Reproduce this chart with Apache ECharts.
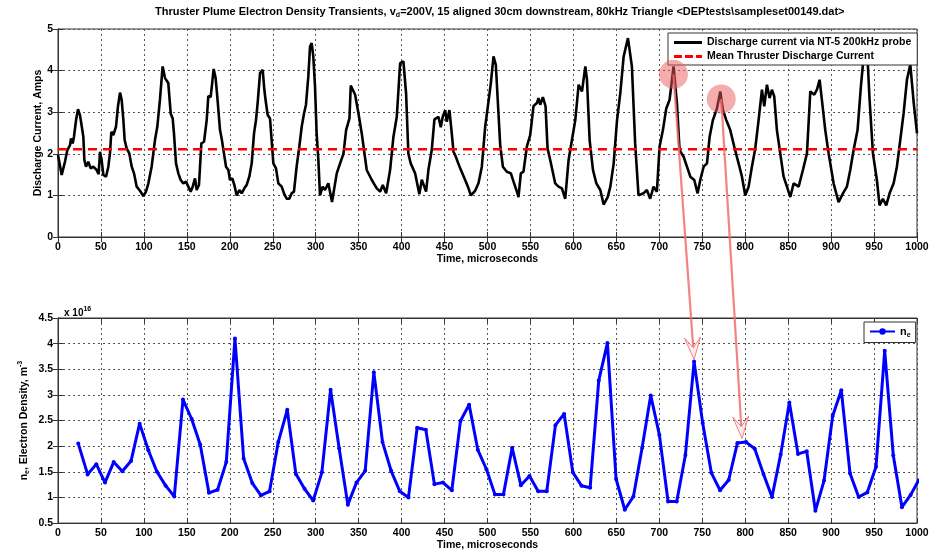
<!DOCTYPE html>
<html><head><meta charset="utf-8">
<script src="https://cdn.jsdelivr.net/npm/echarts@6/dist/echarts.min.js"></script>
<style>html,body{margin:0;padding:0;background:#fff}#c{width:945px;height:552px}</style>
</head><body><div id="c"></div>
<script>
// ---------- DATA ----------
const currentTime = [0,4.3,8.1,10.9,14,15.1,17.1,18.6,21,23.3,25.6,27.9,29.5,30.7,32.6,35.3,38,41.1,45,47.3,48.9,50.8,52.8,55.9,58.6,60.5,62.1,64.4,67.5,69.8,72.2,74.1,76.1,77.6,79.9,83,85.8,88.5,91.6,94.7,97.4,99.3,102.4,105.2,109,112.9,115.6,118.7,121.8,124.6,128.4,131.2,133.5,135,137.4,140.1,142.8,145.9,149,151.7,154.4,156.8,159.5,161.4,164.1,166.9,170,173.1,175,177.7,179.3,181.2,183.5,185.9,188.6,190.5,193.2,195.6,198.3,200.2,202.9,205.3,208,211.1,213.8,216.9,219.6,222.7,225.5,228.2,230.5,232.4,235.2,238.3,240.2,242.1,244.1,246.8,248.7,250.7,253.8,256.5,260.4,263.1,266.2,269.3,272,274.7,277.8,280.9,283.7,286.4,288.7,291.4,293.4,295.3,297.2,299.2,301.1,303.1,305,308.1,310.8,314.7,319,324.5,328.4,332.3,335.4,339.3,340.8,345.9,349.8,353.6,359.4,365.3,371.1,375,378.1,382,386.6,390.5,394.4,398.3,402.1,405.2,407.9,410.6,415.7,420.7,423.5,428.5,431.2,435.1,438.2,442.9,445.6,447.9,450.7,452.6,455.7,458.4,460.4,462.3,468.2,474,477.9,480.6,485.6,489.5,493.4,497.3,501.2,503.9,507,509.7,512.1,514.8,517.9,522.5,527.2,530.3,534.2,536.1,538.8,541.9,545.8,549.7,553.6,557.5,559.4,561.4,564.5,567.6,569.9,573,578.8,582.7,586.6,590.5,594.4,598.3,602.2,606.1,610,613.9,615.8,618.9,622.8,626.7,631.3,635.2,639.9,643,646.9,650.8,654.6,658.5,663.5,668.1,671.9,675.8,681.6,685.5,689.4,693.3,697.2,700.3,704.2,708.1,712,716.6,720.5,723.6,728.3,732.2,736.1,740.7,744.6,747.7,751.6,755.5,758.6,762.4,767.1,771,774.1,778,782.6,787.3,792.3,796.2,800.1,804,807.8,811.7,815.6,819.5,822.2,825.3,828.4,831.1,833.8,836.9,840.8,844.7,848.6,852.5,856.4,862.2,867.2,871.9,875.8,880.4,883.5,886.6,889.7,893.2,897.1,902.9,908.7,913.8,918.4,922.3,926.2,930.8,934.7,938.6,941.7,944.8,948.7,953.3,956.4,960.3,964.2,968.1,972.8,976.6,980.5,984.4,988.3,992.2,996.2,1000];
const currentAmps = [1.97,1.49,1.81,2.09,2.21,2.37,2.25,2.41,2.81,3.07,2.93,2.89,2.41,1.85,1.69,1.81,1.65,1.69,1.61,1.51,2.05,1.85,1.49,1.45,1.69,2.01,2.53,2.45,2.65,3.14,3.47,3.30,2.81,2.33,2.13,2.01,1.69,1.53,1.21,1.13,1.05,0.98,1.09,1.29,1.69,2.33,2.65,3.30,4.10,3.82,3.70,2.97,2.85,2.49,1.77,1.53,1.37,1.29,1.33,1.21,1.09,1.21,1.41,1.13,1.25,2.25,2.29,2.81,3.39,3.36,3.66,4.04,3.82,3.26,2.57,2.37,2.01,1.69,1.61,1.37,1.41,1.25,1.00,1.13,1.05,1.17,1.25,1.45,1.77,2.49,2.81,3.22,3.94,4.02,3.54,3.22,2.93,2.85,2.33,1.77,1.65,1.29,1.21,1.05,0.92,0.92,1.05,1.09,1.69,2.17,2.65,2.97,3.18,3.86,4.58,4.66,4.34,3.62,2.49,1.85,1.00,1.21,1.13,1.29,0.84,1.53,1.77,2.0,2.57,2.85,3.64,3.42,2.97,2.49,1.61,1.37,1.17,1.09,1.25,1.05,1.61,2.41,2.89,4.18,4.22,3.46,2.0,1.77,1.53,1.03,1.38,1.09,1.61,2.09,2.83,2.89,2.64,2.89,3.05,2.77,3.05,2.49,2.05,1.97,1.65,1.37,1.17,1.0,1.11,1.29,1.69,2.65,3.26,3.70,4.34,4.14,3.22,2.21,1.69,1.57,1.53,1.33,1.09,0.96,1.53,1.57,2.17,2.45,3.15,3.22,3.34,3.18,3.36,3.14,2.13,1.85,1.29,1.21,1.17,0.92,1.85,2.33,2.81,3.66,3.50,4.10,3.78,2.33,1.61,1.29,1.13,0.78,0.96,1.21,1.77,2.81,3.46,4.34,4.78,4.10,2.25,1.0,1.05,1.13,0.92,1.21,1.09,2.17,2.57,3.09,3.30,4.10,3.22,2.09,1.93,1.69,1.45,1.37,1.05,1.37,1.69,1.77,2.41,2.81,3.09,3.50,3.05,2.81,2.57,2.17,1.77,1.45,1.0,1.21,1.69,2.13,2.81,3.54,3.14,3.66,3.34,3.54,3.38,2.57,2.01,1.45,1.21,0.96,1.29,1.21,1.61,2.01,3.50,3.42,3.54,3.78,3.22,2.57,2.01,1.29,0.84,1.05,1.21,1.61,2.09,2.57,3.62,4.50,4.60,3.30,2.01,1.37,0.76,0.92,0.76,1.05,1.29,1.69,2.33,2.97,3.78,4.15,3.22,2.49];
const meanCurrent = 2.11;

const neTime = [23.6,34.5,44.6,54.7,64.8,74.9,85.0,95.0,105.2,115.2,125.3,135.4,145.5,155.6,165.6,175.7,185.8,195.9,206.0,216.1,226.2,236.2,246.3,256.4,266.9,276.9,287.0,297.1,307.2,317.3,327.3,337.4,347.5,357.6,367.7,377.8,387.8,397.9,408.0,418.1,428.2,438.2,448.3,458.5,468.5,478.6,488.7,498.8,508.6,518.6,528.7,538.8,548.9,559.0,569.0,579.1,589.2,599.3,609.4,619.5,629.5,639.6,649.7,659.8,669.9,680.0,690.0,700.1,710.2,720.3,730.4,740.5,750.5,760.6,770.7,780.8,790.9,801.0,811.1,821.2,831.2,841.3,851.4,861.5,871.6,881.7,891.8,901.8,911.9,922.0,932.1,942.2,952.3,962.4,972.4,982.5,992.6,1002.7];
// electron density in units of 1e16 m^-3
const neValue = [2.05,1.45,1.65,1.29,1.69,1.51,1.71,2.44,1.92,1.50,1.23,1.02,2.91,2.53,2.03,1.09,1.15,1.69,4.10,1.76,1.28,1.04,1.12,2.08,2.71,1.46,1.17,0.94,1.49,3.10,1.96,0.86,1.29,1.52,3.44,2.08,1.52,1.12,1.00,2.36,2.32,1.26,1.29,1.14,2.49,2.81,1.93,1.55,1.06,1.06,1.97,1.24,1.42,1.12,1.12,2.41,2.63,1.49,1.23,1.19,3.28,4.01,1.36,0.76,1.02,1.97,2.99,2.22,0.92,0.92,1.83,3.65,2.45,1.48,1.14,1.34,2.06,2.08,1.95,1.46,1.01,1.84,2.85,1.85,1.90,0.74,1.33,2.59,3.09,1.47,1.01,1.10,1.60,3.86,1.82,0.81,1.05,1.36];

// annotation: highlighted peaks in the current trace and the density points they point to
const annotSource = [[716.5, 3.91], [772.1, 3.32]];
const annotTarget = [[740.5, 3.69], [796.3, 2.15]];

// ---------- CHART ----------
const FONT = "'Liberation Sans', Arial, Helvetica, sans-serif";
const chart = echarts.init(document.getElementById('c'), null, {renderer: 'canvas'});

function pair(xs, ys) { return xs.map((x, i) => [x, ys[i]]); }

const gridLine = {show: true, lineStyle: {color: '#555', type: [2, 3], width: 1}};
const lbl = {color: '#000', fontWeight: 'bold', fontSize: 10.5, fontFamily: FONT, formatter: v => String(v)};
const nameStyle = {color: '#000', fontWeight: 'bold', fontSize: 10.5, fontFamily: FONT};
const axLine = {show: true, lineStyle: {color: '#333', width: 1}};
const tick = {show: true, inside: true, length: 5, lineStyle: {color: '#333'}};

function mirrorX(gi, interval) {
  return {gridIndex: gi, type: 'value', position: 'top', min: 0, max: 1000, interval: interval,
    axisLine: axLine, axisTick: tick, axisLabel: {show: false}, splitLine: {show: false}};
}
function mirrorY(gi, min, max, interval) {
  return {gridIndex: gi, type: 'value', position: 'right', min: min, max: max, interval: interval,
    axisLine: axLine, axisTick: tick, axisLabel: {show: false}, splitLine: {show: false}};
}

const option = {
  animation: false,
  backgroundColor: '#fff',
  title: [
    {
      left: 150, top: 0,
      text: '{a|Thruster Plume Electron Density Transients, v}{s|d}{a|=200V, 15 aligned 30cm downstream, 80kHz Triangle <DEPtests\\sampleset00149.dat>}',
      textStyle: {
        rich: {
          a: {fontSize: 11, fontWeight: 'bold', fontFamily: FONT, color: '#000', lineHeight: 14},
          s: {fontSize: 7, fontWeight: 'bold', fontFamily: FONT, color: '#000', lineHeight: 7, verticalAlign: 'bottom'}
        }
      }
    },
    {
      left: 59, top: 301,
      text: '{a|x 10}{p|16}',
      textStyle: {
        rich: {
          a: {fontSize: 10, fontWeight: 'bold', fontFamily: FONT, color: '#000', lineHeight: 14},
          p: {fontSize: 7, fontWeight: 'bold', fontFamily: FONT, color: '#000', lineHeight: 7, verticalAlign: 'top'}
        }
      }
    }
  ],
  grid: [
    {left: 58, right: 28, top: 29, height: 208, show: true, borderColor: '#333', borderWidth: 1},
    {left: 58, right: 28, top: 318, height: 208, show: true, borderColor: '#333', borderWidth: 1}
  ],
  legend: [
    {
      orient: 'vertical', left: 668, top: 33, padding: [4, 6, 3, 6], itemGap: 3,
      itemWidth: 28, itemHeight: 12, symbolKeepAspect: true,
      backgroundColor: '#fff', borderColor: '#333', borderWidth: 1, borderRadius: 0,
      textStyle: {color: '#000', fontWeight: 'bold', fontSize: 10.5, fontFamily: FONT},
      data: [
        {name: 'Discharge current via NT-5 200kHz probe', icon: 'path://M0,0H28V3H0Z'},
        {name: 'Mean Thruster Discharge Current', icon: 'path://M0,0H8V3H0Z M11,0H19V3H11Z M22,0H28V3H22Z'}
      ]
    },
    {
      orient: 'vertical', left: 864, top: 322, padding: [4, 5, 4, 5],
      itemWidth: 25, itemHeight: 8,
      backgroundColor: '#fff', borderColor: '#333', borderWidth: 1, borderRadius: 0,
      formatter: () => '{a|n}{s|e}',
      textStyle: {
        rich: {
          a: {fontSize: 11, fontWeight: 'bold', fontFamily: FONT, color: '#000', lineHeight: 14},
          s: {fontSize: 7, fontWeight: 'bold', fontFamily: FONT, color: '#000', lineHeight: 7, verticalAlign: 'bottom'}
        }
      },
      data: ['ne']
    }
  ],
  xAxis: [
    {gridIndex: 0, type: 'value', min: 0, max: 1000, interval: 50,
      axisLine: axLine, axisTick: tick, axisLabel: Object.assign({margin: 5}, lbl), splitLine: gridLine,
      name: 'Time, microseconds', nameLocation: 'middle', nameGap: 17, nameTextStyle: nameStyle},
    {gridIndex: 1, type: 'value', min: 0, max: 1000, interval: 50,
      axisLine: axLine, axisTick: tick, axisLabel: Object.assign({margin: 5}, lbl), splitLine: gridLine,
      name: 'Time, microseconds', nameLocation: 'middle', nameGap: 15, nameTextStyle: nameStyle},
    mirrorX(0, 50), mirrorX(1, 50)
  ],
  yAxis: [
    {gridIndex: 0, type: 'value', min: 0, max: 5, interval: 1,
      axisLine: axLine, axisTick: tick, axisLabel: Object.assign({margin: 5}, lbl), splitLine: gridLine,
      name: 'Discharge Current, Amps', nameLocation: 'middle', nameGap: 14, nameMoveOverlap: false,
      nameTextStyle: nameStyle},
    {gridIndex: 1, type: 'value', min: 0.5, max: 4.5, interval: 0.5,
      axisLine: axLine, axisTick: tick, axisLabel: Object.assign({margin: 5}, lbl), splitLine: gridLine,
      name: '{a|n}{s|e}{a|, Electron Density, m}{p|-3}', nameLocation: 'middle', nameGap: 27, nameMoveOverlap: false,
      nameTextStyle: {
        rich: {
          a: {fontSize: 10.5, fontWeight: 'bold', fontFamily: FONT, color: '#000', lineHeight: 14},
          s: {fontSize: 7, fontWeight: 'bold', fontFamily: FONT, color: '#000', lineHeight: 7, verticalAlign: 'bottom'},
          p: {fontSize: 7, fontWeight: 'bold', fontFamily: FONT, color: '#000', lineHeight: 7, verticalAlign: 'top'}
        }
      }},
    mirrorY(0, 0, 5, 1), mirrorY(1, 0.5, 4.5, 0.5)
  ],
  series: [
    {
      name: 'Discharge current via NT-5 200kHz probe', type: 'line', xAxisIndex: 0, yAxisIndex: 0,
      data: pair(currentTime, currentAmps), symbol: 'none', smooth: false,
      lineStyle: {color: '#000', width: 2.6}, itemStyle: {color: '#000'}, z: 3
    },
    {
      name: 'Mean Thruster Discharge Current', type: 'line', xAxisIndex: 0, yAxisIndex: 0,
      data: [[0, meanCurrent], [1000, meanCurrent]], symbol: 'none',
      lineStyle: {color: '#ff0000', width: 2.6, type: [9, 6]}, itemStyle: {color: '#ff0000'}, z: 3
    },
    {
      name: 'ne', type: 'line', xAxisIndex: 1, yAxisIndex: 1,
      data: pair(neTime, neValue), symbol: 'circle', symbolSize: 4, showSymbol: true,
      lineStyle: {color: '#0000ff', width: 3}, itemStyle: {color: '#0000ff'}, z: 3
    }
  ]
};
chart.setOption(option);

// ---------- annotations (positioned through the axes' own scales) ----------
function arrowGraphics() {
  const g = [];
  const pink = 'rgba(238,110,110,0.85)';
  annotSource.forEach((s, i) => {
    const p = chart.convertToPixel({gridIndex: 0}, s);
    const t = chart.convertToPixel({gridIndex: 1}, annotTarget[i]);
    const dx = t[0] - p[0], dy = t[1] - p[1];
    const L = Math.hypot(dx, dy), ux = dx / L, uy = dy / L, nx = -uy, ny = ux;
    const headL = 22, headW = 8, notch = 12;
    g.push({type: 'line', z: 100, shape: {x1: p[0], y1: p[1], x2: t[0] - ux * notch, y2: t[1] - uy * notch},
      style: {stroke: pink, lineWidth: 2.2}});
    g.push({type: 'polygon', z: 101, shape: {points: [
      [t[0], t[1]],
      [t[0] - ux * headL + nx * headW, t[1] - uy * headL + ny * headW],
      [t[0] - ux * notch, t[1] - uy * notch],
      [t[0] - ux * headL - nx * headW, t[1] - uy * headL - ny * headW]
    ]}, style: {fill: 'rgba(255,215,215,0.5)', stroke: pink, lineWidth: 1}});
    g.push({type: 'circle', z: 102, shape: {cx: p[0], cy: p[1], r: 14.5},
      style: {fill: 'rgba(235,90,90,0.5)', stroke: 'none'}});
  });
  return g;
}
chart.setOption({graphic: arrowGraphics()});
</script>
</body></html>
